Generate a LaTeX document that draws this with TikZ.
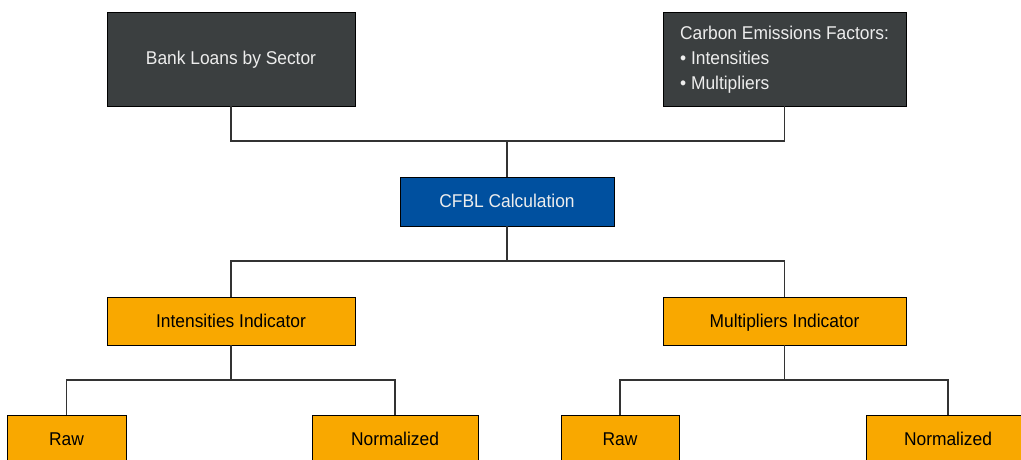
\documentclass[tikz,border=0pt]{standalone}
\usepackage{fontspec}
\setmainfont{Liberation Sans}[FakeStretch=0.94]
\definecolor{boxgray}{HTML}{3B3F40}
\definecolor{boxblue}{HTML}{00509F}
\definecolor{boxorange}{HTML}{F9A800}
\definecolor{linegray}{HTML}{333333}
\begin{document}
\begin{tikzpicture}[x = 1pt, y = -1pt,
		box/.style = {draw = black, line width = 0.8pt, inner sep = 0pt, text height = 13.5pt, text depth = 1.5pt,
			font = \fontsize{18.5}{25}\selectfont},
		darkbox/.style = {box, fill = boxgray, text = white!93!black},
		bluebox/.style = {box, fill = boxblue, text = white!93!black},
		orangebox/.style = {box, fill = boxorange, text = black},
		link/.style = {draw = linegray, line width = 1.2pt}]
		\useasboundingbox (0, 0) rectangle (1021, 460);
		\clip (0, 0) rectangle (1021, 460);
		% inputs
		\node[darkbox, minimum width = 248, minimum height = 94] (loans) at (231, 59) {Bank Loans by Sector};
		\node[darkbox, minimum width = 243, minimum height = 94] (factors) at (784.5, 59) {};
		\node[text = white!93!black, font = \fontsize{18.5}{25}\selectfont, align = left, inner sep = 0pt] (factorstext) at (784.5, 60)
			{Carbon Emissions Factors:\\\textbullet\ Intensities\\\textbullet\ Multipliers};
		% calculation
		\node[bluebox, minimum width = 214, minimum height = 49] (cfbl) at (507, 201.5) {CFBL Calculation};
		% indicators
		\node[orangebox, minimum width = 248, minimum height = 48] (intens) at (231, 321) {Intensities Indicator};
		\node[orangebox, minimum width = 243, minimum height = 48] (multi) at (784.5, 321) {Multipliers Indicator};
		% outputs
		\node[orangebox, minimum width = 119, minimum height = 48] (rawI) at (66.5, 439) {Raw};
		\node[orangebox, minimum width = 166, minimum height = 48] (normI) at (395, 439) {Normalized};
		\node[orangebox, minimum width = 118, minimum height = 48] (rawM) at (620, 439) {Raw};
		\node[orangebox, minimum width = 164, minimum height = 48] (normM) at (948, 439) {Normalized};
		% joints
		\coordinate (j1) at (507, 141);
		\coordinate (j2) at (507, 261);
		\coordinate (j3) at (231, 380);
		\coordinate (j4) at (784.5, 380);
		% the links
		\draw[link] (loans.south) |- (j1) -| (factors.south);
		\draw[link] (j1) -- (cfbl.north);
		\draw[link] (cfbl.south) -- (j2);
		\draw[link] (intens.north) |- (j2) -| (multi.north);
		\draw[link] (intens.south) -- (j3);
		\draw[link] (rawI.north) |- (j3) -| (normI.north);
		\draw[link] (multi.south) -- (j4);
		\draw[link] (rawM.north) |- (j4) -| (normM.north);
	\end{tikzpicture}
\end{document}
